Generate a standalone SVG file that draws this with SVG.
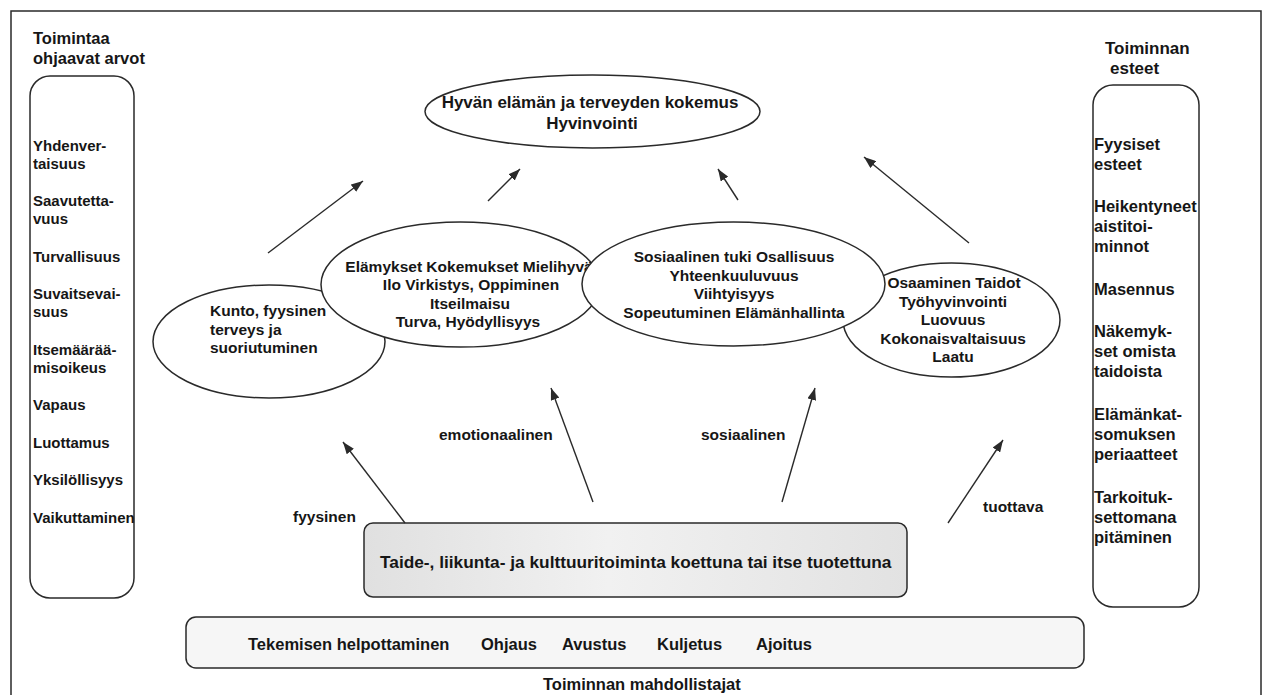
<svg xmlns="http://www.w3.org/2000/svg" width="1266" height="695" viewBox="0 0 1266 695">
<defs>
<style>
text{font-family:"Liberation Sans",Arial,sans-serif;font-weight:bold;fill:#161616}
.t15{font-size:15px}
.e{font-size:15.5px}
.r{font-size:16.5px}
.t16{font-size:16.5px}
.t17{font-size:17px}
.c{text-anchor:middle}
.shape{fill:#fff;stroke:#2a2a2a;stroke-width:1.5}
.conn line{stroke:#2a2a2a;stroke-width:1.4;marker-end:url(#ah)}
</style>
<marker id="ah" viewBox="0 0 12 9" refX="12" refY="4.5" markerWidth="12" markerHeight="9" markerUnits="userSpaceOnUse" orient="auto">
<path d="M0,0 L12,4.5 L0,9 z" fill="#2a2a2a"/>
</marker>
<linearGradient id="gbox" x1="0" y1="0" x2="1" y2="0">
<stop offset="0" stop-color="#e0e0e0"/>
<stop offset="0.45" stop-color="#f1f1f1"/>
<stop offset="1" stop-color="#e2e2e2"/>
</linearGradient>
</defs>
<rect width="1266" height="695" fill="#fff"/>
<rect x="11" y="11" width="1250" height="720" fill="none" stroke="#2a2a2a" stroke-width="1.5"/>

<g id="left-panel">
<text class="t16" x="33" y="44">Toimintaa</text>
<text class="t16" x="33" y="64">ohjaavat arvot</text>
<rect class="shape" x="30" y="76" width="104" height="522" rx="20"/>
<text class="t15" x="33" y="151">Yhdenver-</text>
<text class="t15" x="33" y="169">taisuus</text>
<text class="t15" x="33" y="206">Saavutetta-</text>
<text class="t15" x="33" y="224">vuus</text>
<text class="t15" x="33" y="262">Turvallisuus</text>
<text class="t15" x="33" y="299">Suvaitsevai-</text>
<text class="t15" x="33" y="317">suus</text>
<text class="t15" x="33" y="355">Itsemäärää-</text>
<text class="t15" x="33" y="373">misoikeus</text>
<text class="t15" x="33" y="410">Vapaus</text>
<text class="t15" x="33" y="448">Luottamus</text>
<text class="t15" x="33" y="485">Yksilöllisyys</text>
<text class="t15" x="33" y="523">Vaikuttaminen</text>
</g>

<g id="right-panel">
<text class="t17" x="1105" y="54">Toiminnan</text>
<text class="t17" x="1110" y="74">esteet</text>
<rect class="shape" x="1093" y="85" width="106" height="522" rx="20"/>
<text class="r" x="1094" y="150">Fyysiset</text>
<text class="r" x="1094" y="170">esteet</text>
<text class="r" x="1094" y="212">Heikentyneet</text>
<text class="r" x="1094" y="232">aistitoi-</text>
<text class="r" x="1094" y="252">minnot</text>
<text class="r" x="1094" y="295">Masennus</text>
<text class="r" x="1094" y="337">Näkemyk-</text>
<text class="r" x="1094" y="357">set omista</text>
<text class="r" x="1094" y="377">taidoista</text>
<text class="r" x="1094" y="420">Elämänkat-</text>
<text class="r" x="1094" y="440">somuksen</text>
<text class="r" x="1094" y="460">periaatteet</text>
<text class="r" x="1094" y="503">Tarkoituk-</text>
<text class="r" x="1094" y="523">settomana</text>
<text class="r" x="1094" y="543">pitäminen</text>
</g>

<g id="wellbeing">
<ellipse class="shape" cx="592.5" cy="111.5" rx="167.5" ry="36.5"/>
<text class="t17 c" x="590" y="108">Hyvän elämän ja terveyden kokemus</text>
<text class="t17 c" x="592" y="129">Hyvinvointi</text>
</g>

<g id="physical">
<ellipse class="shape" cx="269" cy="341.5" rx="116" ry="56.5"/>
<text class="e" x="210" y="316">Kunto, fyysinen</text>
<text class="e" x="210" y="334.5">terveys ja</text>
<text class="e" x="210" y="353">suoriutuminen</text>
</g>

<g id="emotional">
<ellipse class="shape" cx="460.5" cy="284.5" rx="139.5" ry="62.5"/>
<text class="e c" x="469" y="272">Elämykset Kokemukset Mielihyvä</text>
<text class="e c" x="471" y="290">Ilo Virkistys, Oppiminen</text>
<text class="e c" x="470" y="308.5">Itseilmaisu</text>
<text class="e c" x="468" y="327">Turva, Hyödyllisyys</text>
</g>

<g id="productive">
<ellipse class="shape" cx="951.5" cy="320" rx="108.5" ry="57"/>
<text class="e c" x="954" y="288">Osaaminen Taidot</text>
<text class="e c" x="953" y="306.5">Työhyvinvointi</text>
<text class="e c" x="953" y="325">Luovuus</text>
<text class="e c" x="953" y="343.5">Kokonaisvaltaisuus</text>
<text class="e c" x="953" y="362">Laatu</text>
</g>

<g id="social">
<ellipse class="shape" cx="733.5" cy="284" rx="151.5" ry="62"/>
<text class="e c" x="734" y="262">Sosiaalinen tuki Osallisuus</text>
<text class="e c" x="734" y="280.5">Yhteenkuuluvuus</text>
<text class="e c" x="734" y="299">Viihtyisyys</text>
<text class="e c" x="734" y="317.5">Sopeutuminen Elämänhallinta</text>
</g>

<g id="activity">
<rect x="364" y="523" width="543" height="74" rx="9" fill="url(#gbox)" stroke="#2a2a2a" stroke-width="1.5"/>
<text x="380" y="568" style="font-size:17.3px">Taide-, liikunta- ja kulttuuritoiminta koettuna tai itse tuotettuna</text>
</g>

<g id="enablers">
<rect x="186" y="617" width="898" height="51" rx="10" fill="#f6f6f6" stroke="#2a2a2a" stroke-width="1.5"/>
<text class="t16" x="248" y="650">Tekemisen helpottaminen</text>
<text class="t16" x="481" y="650">Ohjaus</text>
<text class="t16" x="562" y="650">Avustus</text>
<text class="t16" x="657" y="650">Kuljetus</text>
<text class="t16" x="756" y="650">Ajoitus</text>
<text class="t16" x="543" y="690">Toiminnan mahdollistajat</text>
</g>

<g id="connectors" class="conn">
<line x1="268" y1="253" x2="363" y2="181"/>
<line x1="488" y1="201" x2="520" y2="169"/>
<line x1="738" y1="200" x2="718" y2="169"/>
<line x1="969" y1="243" x2="864" y2="157"/>
<line x1="405" y1="523" x2="343" y2="442"/>
<line x1="593" y1="502" x2="551" y2="388"/>
<line x1="782" y1="502" x2="815" y2="388"/>
<line x1="948" y1="523" x2="1003" y2="440"/>
</g>

<g id="connector-labels">
<text class="e" x="293" y="522">fyysinen</text>
<text class="e" x="439" y="440">emotionaalinen</text>
<text class="e" x="701" y="440">sosiaalinen</text>
<text class="e" x="983" y="512">tuottava</text>
</g>
</svg>
